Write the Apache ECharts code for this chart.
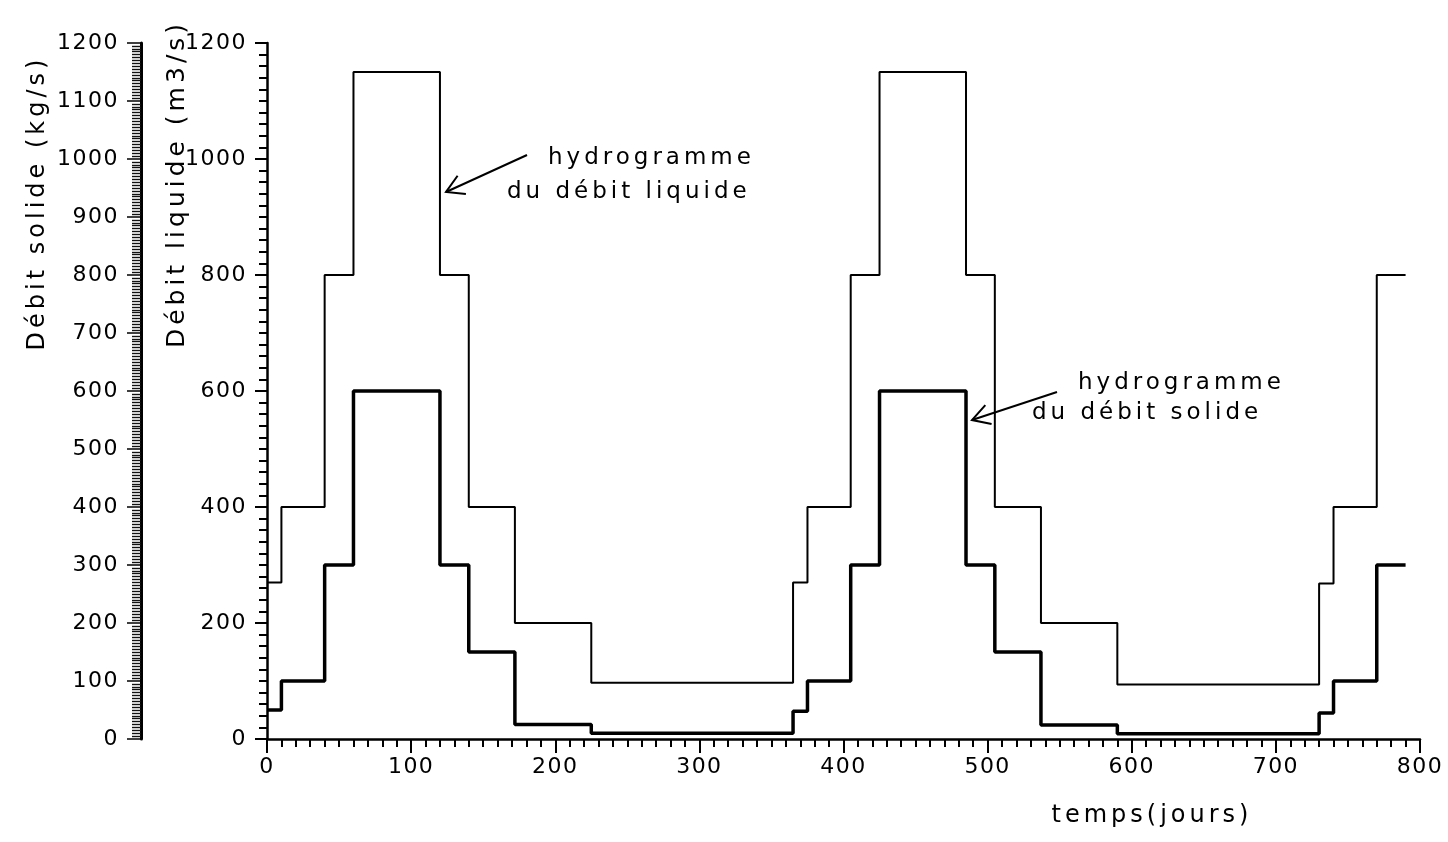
<!DOCTYPE html>
<html><head><meta charset="utf-8">
<script src="https://cdn.jsdelivr.net/npm/echarts@6/dist/echarts.min.js"></script>
<style>html,body{margin:0;padding:0;background:#fff}#c{width:1448px;height:842px}</style>
</head><body><div id="c"></div>
<script>
// ---- data ----
const stepTimes  = [0, 10, 40, 60, 120, 140, 172, 225, 365, 375, 405, 425, 485, 505, 537, 590, 730, 740, 770, 790];
const liquidFlow = [270, 400, 800, 1150, 800, 400, 200, 97, 270, 400, 800, 1150, 800, 400, 200, 94, 268, 400, 800, 800];
const solidFlow  = [50, 100, 300, 600, 300, 150, 25, 10, 48, 100, 300, 600, 300, 150, 24, 9, 45, 100, 300, 300];
const timeTicks   = [0, 100, 200, 300, 400, 500, 600, 700, 800];
const liquidTicks = [0, 200, 400, 600, 800, 1000, 1200];
const solidTicks  = [0, 100, 200, 300, 400, 500, 600, 700, 800, 900, 1000, 1100, 1200];
const labelsText = {
  solidAxis: 'Débit solide (kg/s)',
  liquidAxis: 'Débit liquide (m3/s)',
  timeAxis: 'temps(jours)',
  liqNote: ['hydrogramme', 'du débit liquide'],
  solNote: ['hydrogramme', 'du débit solide']
};

// the plotter lettering of the original is widely spaced: emulate with canvas letterSpacing
(function () {
  const P = CanvasRenderingContext2D.prototype;
  if (!('letterSpacing' in P)) return;
  const orig = P.fillText;
  P.fillText = function (t, x, y, w) {
    const m = /(\d+(?:\.\d+)?)px/.exec(this.font || '');
    const s = m ? parseFloat(m[1]) : 12;
    this.letterSpacing = (s >= 23 ? 4 : 1.5) + 'px';
    return w === undefined ? orig.call(this, t, x, y) : orig.call(this, t, x, y, w);
  };
})();

const FONT = 'DejaVu Sans';
const INK = '#000';
const chart = echarts.init(document.getElementById('c'), null, {renderer: 'canvas'});

const pair = (xs, ys) => xs.map((x, i) => [x, ys[i]]);
const axisRange = t => ({min: t[0], max: t[t.length - 1], interval: t[1] - t[0]});

function txt(text, x, y, size, opts) {
  opts = opts || {};
  return {
    type: 'text', x: x, y: y, rotation: opts.rotation || 0, silent: true,
    style: {
      text: text, fontSize: size, fontFamily: FONT, fill: INK,
      align: opts.align || 'left', verticalAlign: 'middle',
      textAlign: opts.align || 'left', textVerticalAlign: 'middle'
    }
  };
}
function arrow(tail, tip) {
  const dx = tail[0] - tip[0], dy = tail[1] - tip[1];
  const L = Math.hypot(dx, dy), ux = dx / L, uy = dy / L, h = 20, a = Math.PI / 6;
  const r = (s) => [tip[0] + h * (ux * Math.cos(s) - uy * Math.sin(s)), tip[1] + h * (ux * Math.sin(s) + uy * Math.cos(s))];
  const st = {stroke: '#000', lineWidth: 2, fill: null};
  return [
    {type: 'polyline', silent: true, shape: {points: [tail, tip]}, style: st},
    {type: 'polyline', silent: true, shape: {points: [r(a), tip, r(-a)]}, style: st}
  ];
}

const axisLine = {show: true, lineStyle: {color: '#000', width: 2.5}};
const plain = v => String(v);
const labelStyle = {color: INK, fontFamily: FONT, fontSize: 22, formatter: plain};

chart.setOption({
  animation: false,
  backgroundColor: '#fff',
  grid: {left: 267, right: 28, top: 43, bottom: 103, containLabel: false},
  xAxis: Object.assign({
    type: 'value',
    axisLine: axisLine,
    axisTick: {show: true, length: 14, lineStyle: {color: '#000', width: 2}},
    minorTick: {show: true, splitNumber: 10, length: 8, lineStyle: {color: '#000', width: 2}},
    axisLabel: Object.assign({margin: 17}, labelStyle),
    splitLine: {show: false}
  }, axisRange(timeTicks)),
  yAxis: [
    Object.assign({
      type: 'value', position: 'left', offset: 0,
      axisLine: axisLine,
      axisTick: {show: true, length: 12, lineStyle: {color: '#000', width: 2}},
      minorTick: {show: true, splitNumber: 10, length: 8, lineStyle: {color: '#000', width: 2}},
      axisLabel: Object.assign({margin: 20}, labelStyle),
      splitLine: {show: false}
    }, axisRange(liquidTicks)),
    Object.assign({
      type: 'value', position: 'left', offset: 126,
      axisLine: {show: true, lineStyle: {color: '#000', width: 3}},
      axisTick: {show: true, length: 14, lineStyle: {color: '#000', width: 1.5}},
      minorTick: {show: true, splitNumber: 20, length: 9, lineStyle: {color: '#111', width: 1.4}},
      axisLabel: Object.assign({margin: 22}, labelStyle),
      splitLine: {show: false}
    }, axisRange(solidTicks))
  ],
  series: [
    {
      name: 'débit liquide', type: 'line', step: 'end', yAxisIndex: 0,
      data: pair(stepTimes, liquidFlow), symbol: 'none',
      lineStyle: {color: '#000', width: 2}
    },
    {
      name: 'débit solide', type: 'line', step: 'end', yAxisIndex: 1,
      data: pair(stepTimes, solidFlow), symbol: 'none',
      lineStyle: {color: '#000', width: 3.5}
    }
  ],
  graphic: [
    txt(labelsText.solidAxis, 38, 203, 24, {rotation: Math.PI / 2, align: 'center'}),
    txt(labelsText.liquidAxis, 177, 184, 25, {rotation: Math.PI / 2, align: 'center'}),
    txt(labelsText.timeAxis, 1152, 816, 24, {align: 'center'}),
    txt(labelsText.liqNote[0], 548, 158, 23),
    txt(labelsText.liqNote[1], 507, 192, 23),
    txt(labelsText.solNote[0], 1078, 383, 23),
    txt(labelsText.solNote[1], 1032, 413, 23)
  ].concat(arrow([527, 155], [446, 192]), arrow([1057, 392], [972, 420]))
});
</script>
</body></html>
